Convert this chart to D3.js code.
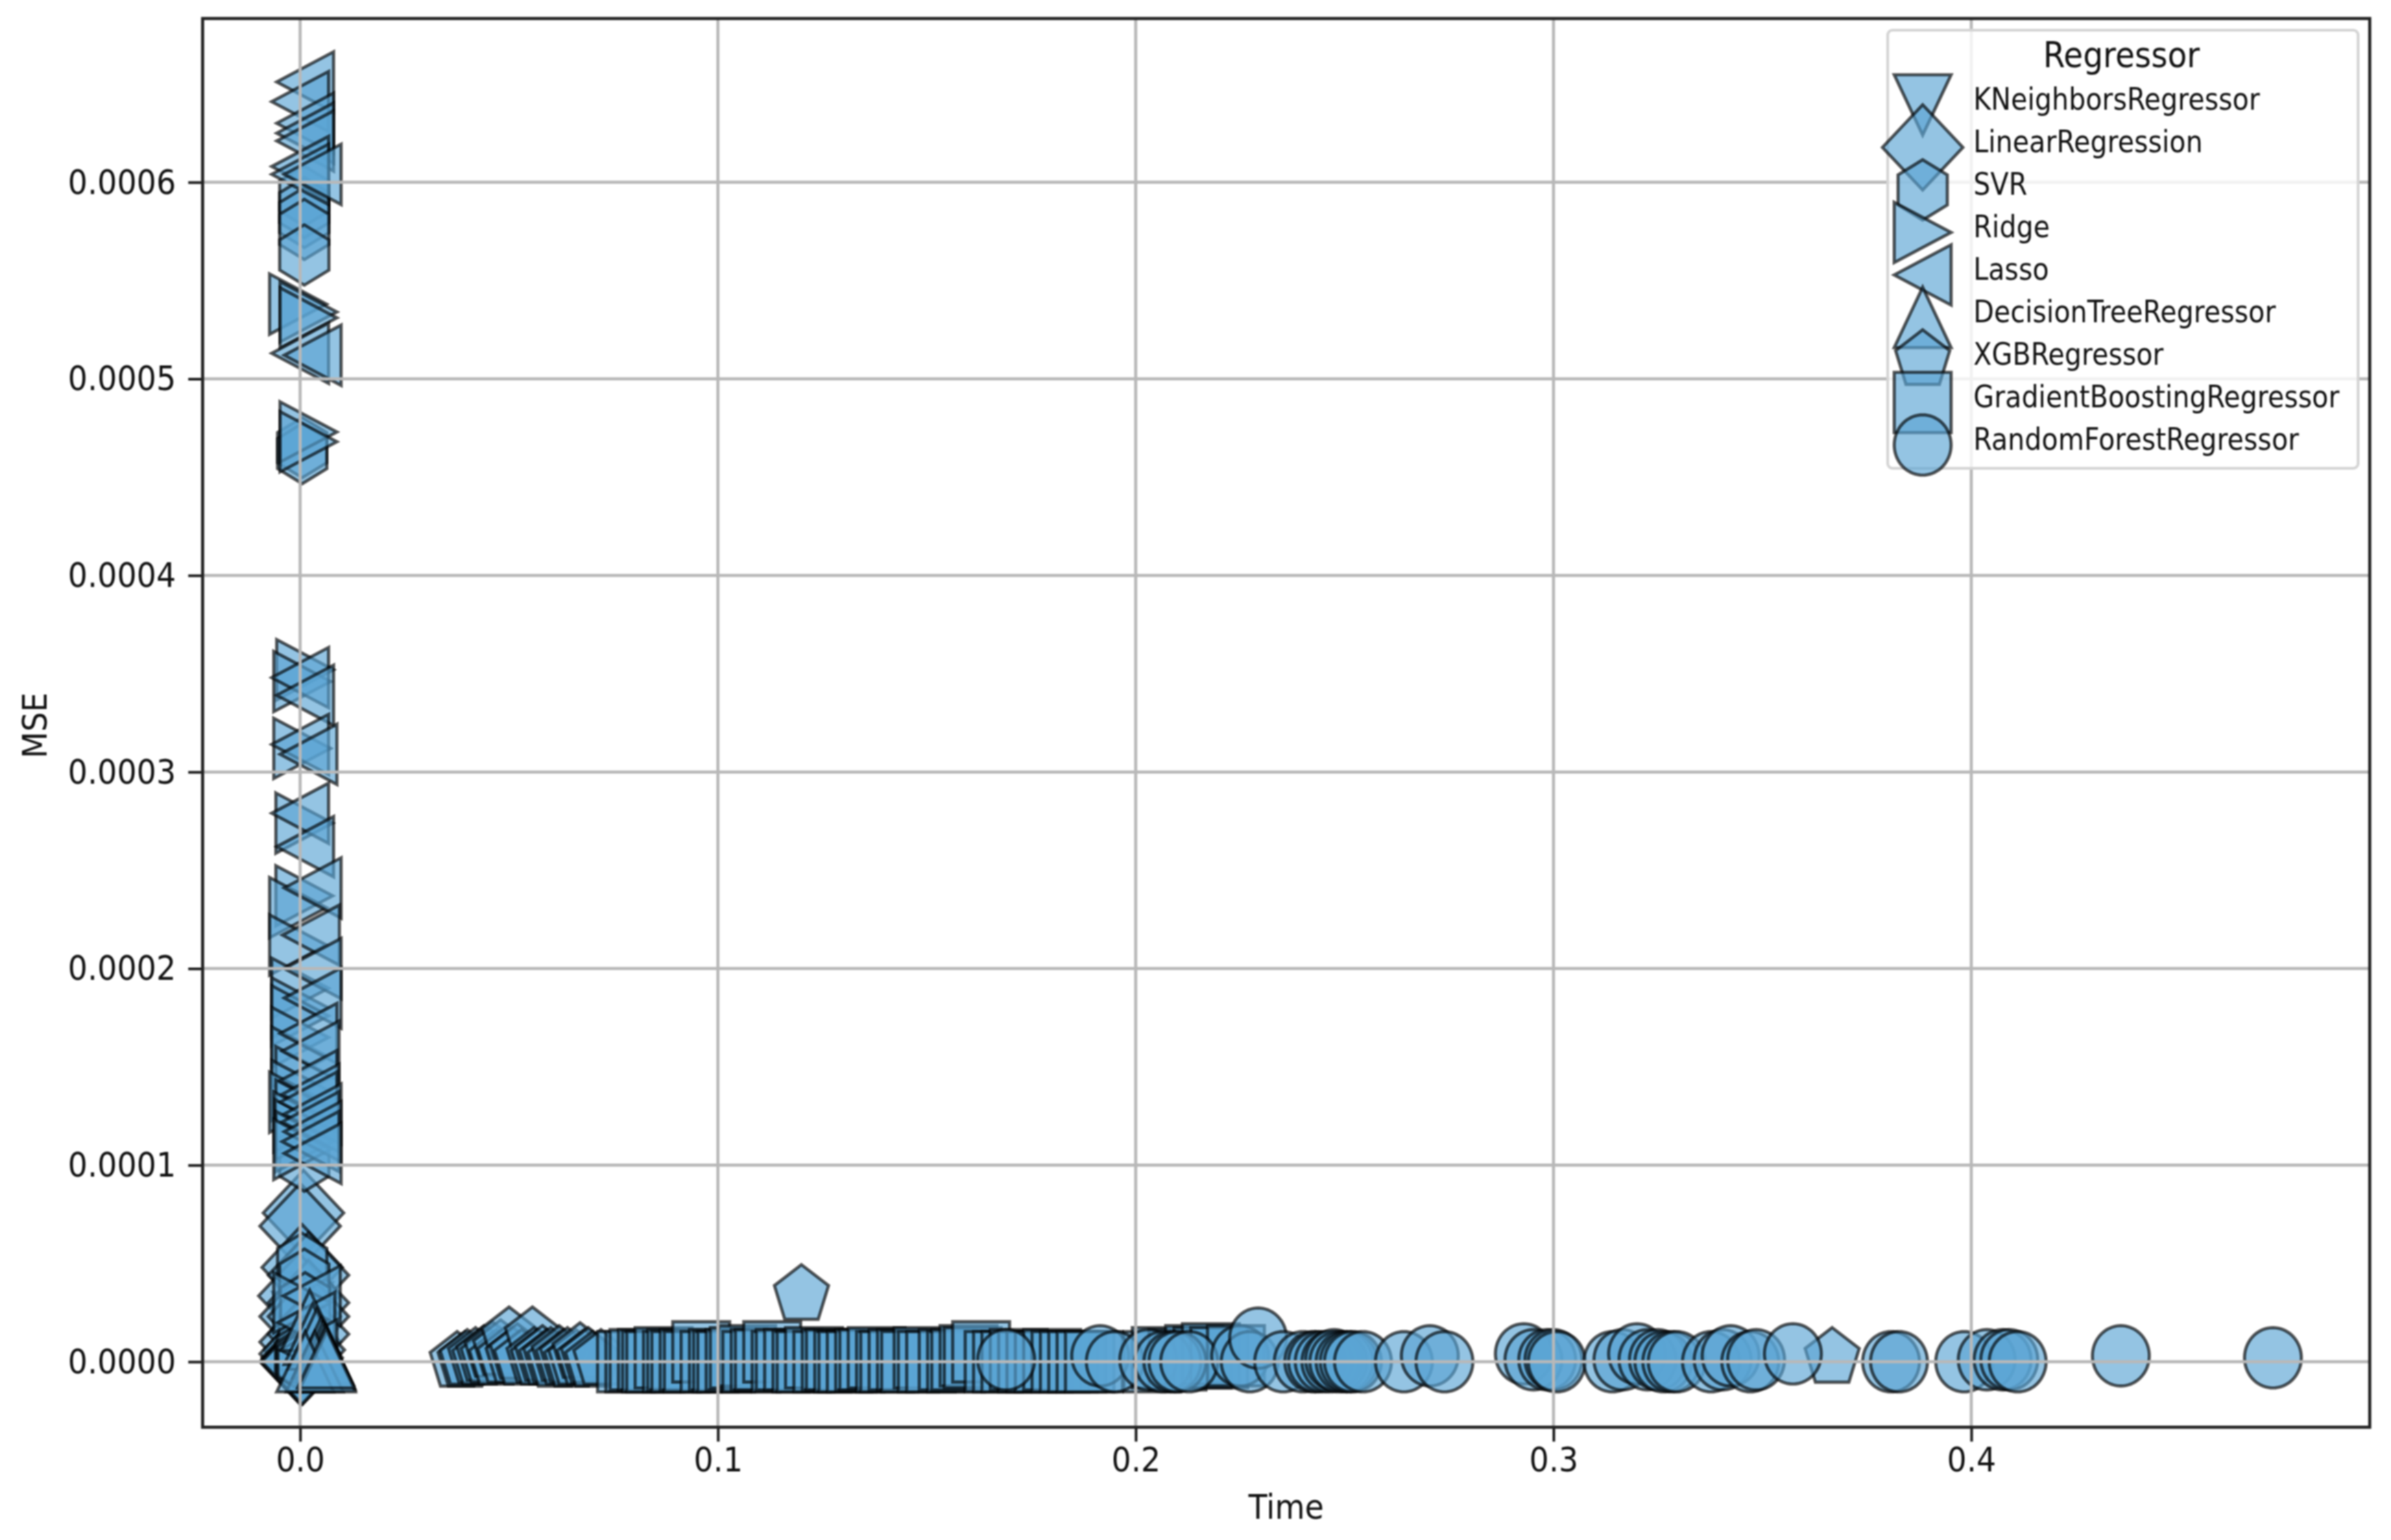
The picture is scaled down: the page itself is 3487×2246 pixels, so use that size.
<!DOCTYPE html>
<html><head><meta charset="utf-8">
<script src="https://cdn.jsdelivr.net/npm/d3@7/dist/d3.min.js"></script>
<style>
html,body{margin:0;padding:0;background:#fff;}
svg{display:block;filter:blur(1.3px);font-family:"DejaVu Sans",sans-serif;}
.st{transform-box:fill-box;transform-origin:center;transform:scaleY(1.12);}
</style></head><body>
<script>
const xTicks=[0,0.1,0.2,0.3,0.4];
const yTicks=[0,0.0001,0.0002,0.0003,0.0004,0.0005,0.0006];
const xTitle="Time", yTitle="MSE", legendTitle="Regressor";
const regressors=["KNeighborsRegressor","LinearRegression","SVR","Ridge","Lasso","DecisionTreeRegressor","XGBRegressor","GradientBoostingRegressor","RandomForestRegressor"];

const knnTime=[0.0005,0.001,0.0002,0.0015,0.0008,0.0003,0.001,0.0006,0.0012,0.0004,0.0002,0.0009,0.0006,0.0003];
const knnMse=[0.30,0.25,0.20,0.15,0.10,0.05,0.03,0.02,0.01,0.0,0.0,0.0,0.0,0.0];
const linTime=[0.0008,0,0.0005,0.002,-0.0003,0.002,0,0.002,0,0.002,0.001,0,0.0005,0.0,0.0002,0.0006,0.0004];
const linMse=[0.757,0.69,0.48,0.44,0.335,0.30,0.23,0.23,0.10,0.14,0.06,0.04,0.02,0.0,0.0,0.0,0.0];
const svrTime=[0.001,0.001,0.001,0.001,0.001,0.0005,0.0005,0.001,0.0005,0.001,0.0012,0.0008,0.0004,0.0,0.0003,0.0006];
const svrMse=[5.93,5.87,5.82,5.76,5.63,4.65,4.62,1.02,0.50,0.42,0.30,0.12,0.05,0.02,0.01,0.0];
const ridgeTime=[-0.0005,0.002,0.002,0.002,0.002,0.0012,0.0005,0.0005,0.001,0.001,-0.0005,-0.0005,0.0,0.0,0.0,0.0,0.0,0.001,0.0,-0.0005,0.001,0.0005,0.0008,0.001,0.0005,0.0005];
const ridgeMse=[5.38,5.34,5.31,4.73,4.68,3.52,3.46,3.12,2.74,2.37,2.31,2.12,1.90,1.80,1.76,1.65,1.55,1.45,1.38,1.32,1.28,1.22,1.18,1.12,1.08,0.30];
const lassoTime=[0.0012,0,0.0012,0.0012,0.0012,0,0,0.003,0,0.003,0,0.0012,0,0.002,0,0.0012,0.003,0.0026,0.003,0.003,0.002,0.0025,0.002,0.0025,0.002,0.003,0.0025,0.003,0.0025,0.003,0.0028,0.0015,0.002];
const lassoMse=[6.51,6.41,6.30,6.25,6.21,6.08,6.04,6.04,5.13,5.12,3.48,3.39,3.14,3.09,2.79,2.62,2.41,2.17,2.0,1.85,1.67,1.58,1.43,1.36,1.32,1.26,1.22,1.17,1.12,1.06,0.335,0.20,0.06];
const treeTime=[0.0023,0.003,0.004,0.005,0.0055,0.006,0.0064,0.0035,0.0012,0.0064,0.0062];
const treeMse=[0.21,0.14,0.115,0.07,0.05,0.035,0.01,0.0,0.0,0.0,0.02];
const xgbTime=[0.0376,0.0395,0.040,0.042,0.043,0.044,0.045,0.046,0.047,0.048,0.049,0.050,0.051,0.052,0.053,0.0556,0.056,0.057,0.058,0.059,0.060,0.061,0.062,0.063,0.064,0.065,0.066,0.067,0.068,0.069,0.070,0.072,0.120,0.3667];
const xgbMse=[0.0,0.0,0.01,0.02,0.01,0.03,0.02,0.05,0.01,0.06,0.02,0.125,0.02,0.04,0.01,0.125,0.02,0.01,0.03,0.01,0.02,0.0,0.03,0.01,0.02,0.0,0.01,0.045,0.01,0.02,0.0,0.01,0.34,0.02];
const gbTime=[0.078,0.080,0.081,0.083,0.084,0.085,0.087,0.089,0.090,0.091,0.093,0.094,0.096,0.098,0.100,0.101,0.102,0.104,0.105,0.107,0.108,0.110,0.111,0.113,0.115,0.116,0.118,0.120,0.121,0.123,0.125,0.127,0.128,0.130,0.131,0.133,0.135,0.136,0.138,0.140,0.141,0.143,0.145,0.146,0.149,0.150,0.152,0.155,0.157,0.158,0.160,0.161,0.163,0.166,0.168,0.170,0.172,0.174,0.176,0.178,0.180,0.182,0.184,0.186,0.188,0.190,0.204,0.206,0.210,0.214,0.216,0.218,0.220,0.224];
const gbMse=[0.0,0.0,0.01,0.01,0.0,0.0,0.02,0.0,0.01,0.0,0.01,0.0,0.05,0.0,0.01,0.0,0.0,0.01,0.02,0.03,0.0,0.01,0.01,0.05,0.0,0.01,0.01,0.0,0.0,0.02,0.0,0.01,0.01,0.0,0.0,0.0,0.01,0.01,0.02,0.0,0.0,0.01,0.01,0.0,0.02,0.0,0.0,0.01,0.0,0.01,0.03,0.02,0.05,0.0,0.0,0.0,0.01,0.0,0.0,0.0,0.01,0.0,0.0,0.0,0.0,0.0,0.0,0.02,0.01,0.03,0.02,0.04,0.02,0.03];
const rfTime=[0.169,0.1915,0.195,0.203,0.2066,0.2088,0.21,0.2128,0.225,0.2273,0.2293,0.2353,0.24,0.2425,0.2434,0.245,0.2466,0.2475,0.2485,0.25,0.251,0.252,0.2544,0.2642,0.2704,0.2739,0.2929,0.2952,0.2985,0.30,0.3008,0.3141,0.3165,0.32,0.3225,0.325,0.3263,0.3282,0.3295,0.3377,0.3405,0.3424,0.3471,0.3485,0.3573,0.3808,0.3827,0.3983,0.4037,0.4075,0.4091,0.4111,0.4358,0.4722];
const rfMse=[0.01,0.03,0.0,0.01,0.0,0.0,0.0,0.0,0.03,0.0,0.12,0.0,0.0,0.0,0.0,0.0,0.0,0.01,0.0,0.0,0.0,0.0,0.0,0.0,0.03,0.0,0.04,0.01,0.01,0.01,0.0,0.0,0.01,0.04,0.01,0.01,0.0,0.0,0.0,0.0,0.01,0.03,0.0,0.01,0.04,0.0,0.0,0.0,0.01,0.01,0.01,0.0,0.03,0.02];

const seriesT=[knnTime,linTime,svrTime,ridgeTime,lassoTime,treeTime,xgbTime,gbTime,rfTime];
const seriesM=[knnMse,linMse,svrMse,ridgeMse,lassoMse,treeMse,xgbMse,gbMse,rfMse];

const W=3487,H=2246,L=295.5,R=3456,T=27,B=2081.5;
const px0=437.7,pxPer=6093,py0=1986,pyPer=2867000;
const x=d3.scaleLinear().domain([(L-px0)/pxPer,(R-px0)/pxPer]).range([L,R]);
const y=d3.scaleLinear().domain([(py0-B)/pyPer,(py0-T)/pyPer]).range([B,T]);

const poly=(n,rot)=>d3.range(n).map(i=>{const a=rot+i*2*Math.PI/n;return [0.5*Math.sin(a),-0.5*Math.cos(a)];});
const shapes=[
 [[-.5,-.5],[.5,-.5],[0,.5]],
 [[0,-.7071],[.7071,0],[0,.7071],[-.7071,0]],
 poly(6,0),
 [[-.5,-.5],[.5,0],[-.5,.5]],
 [[.5,-.5],[-.5,0],[.5,.5]],
 [[0,-.5],[.5,.5],[-.5,.5]],
 poly(5,0),
 [[-.5,-.5],[.5,-.5],[.5,.5],[-.5,.5]],
 poly(72,0)
];
const S=83,SY=88;
const line=d3.line().x(d=>d[0]*S).y(d=>d[1]*SY).curve(d3.curveLinearClosed);
const fill="rgb(90,165,212)",edge="#000",fillA=0.65,edgeA=0.66,edgeW=4.6;

const svg=d3.select("body").append("svg").attr("width",W).attr("height",H).attr("viewBox",`0 0 ${W} ${H}`);
svg.append("rect").attr("width",W).attr("height",H).attr("fill","#fff");

// marks
const marks=svg.append("g");
regressors.forEach((name,i)=>{
  const pts=seriesT[i].map((t,j)=>({t,m:seriesM[i][j]*1e-4}));
  marks.append("g").selectAll("path").data(pts).join("path")
    .attr("d",line(shapes[i]))
    .attr("transform",d=>`translate(${x(d.t)},${y(d.m)})`)
    .attr("fill",fill).attr("fill-opacity",fillA)
    .attr("stroke",edge).attr("stroke-opacity",edgeA).attr("stroke-width",edgeW).attr("stroke-miterlimit",10);
});

// grid, drawn over the marks as in the reference
svg.append("g").selectAll("line").data(xTicks).join("line")
  .attr("x1",d=>x(d)).attr("x2",d=>x(d)).attr("y1",T).attr("y2",B).attr("stroke","#b8b8b8").attr("stroke-width",4.5);
svg.append("g").selectAll("line").data(yTicks).join("line")
  .attr("y1",d=>y(d)).attr("y2",d=>y(d)).attr("x1",L).attr("x2",R).attr("stroke","#b8b8b8").attr("stroke-width",4.5);

// axes
const ax=svg.append("g").attr("transform",`translate(0,${B})`)
  .call(d3.axisBottom(x).tickValues(xTicks).tickFormat(d3.format(".1f")).tickSize(21).tickPadding(10));
const ay=svg.append("g").attr("transform",`translate(${L},0)`)
  .call(d3.axisLeft(y).tickValues(yTicks).tickFormat(d3.format(".4f")).tickSize(21).tickPadding(18));
[ax,ay].forEach(g=>{
  g.select(".domain").remove();
  g.selectAll(".tick line").attr("stroke","#222").attr("stroke-width",4);
  g.selectAll(".tick text").attr("class","st").attr("font-size",45).attr("fill","#111").attr("font-family",'"DejaVu Sans"');
});
svg.append("rect").attr("x",L).attr("y",T).attr("width",R-L).attr("height",B-T)
  .attr("fill","none").attr("stroke","#222").attr("stroke-width",4.5);

svg.append("text").attr("class","st").attr("x",(L+R)/2).attr("y",2213).attr("text-anchor","middle")
  .attr("font-size",45).attr("fill","#111").text(xTitle);
svg.append("g").attr("transform","translate(66,1058) rotate(-90)").append("text").attr("class","st")
  .attr("text-anchor","middle").attr("font-size",45).attr("fill","#111").text(yTitle);

// legend
const lg=svg.append("g");
lg.append("rect").attr("x",2753).attr("y",44).attr("width",686).attr("height",639).attr("rx",7)
  .attr("fill","#fff").attr("fill-opacity",0.8).attr("stroke","#d4d4d4").attr("stroke-width",4);
lg.append("text").attr("class","st").attr("x",3094).attr("y",96).attr("text-anchor","middle")
  .attr("font-size",46).attr("fill","#111").text(legendTitle);
const rowY=d3.scalePoint().domain(regressors).range([145,641]);
regressors.forEach((name,i)=>{
  lg.append("path").attr("d",line(shapes[i])).attr("transform",`translate(2804,${rowY(name)+8})`)
    .attr("fill",fill).attr("fill-opacity",fillA).attr("stroke",edge).attr("stroke-opacity",edgeA)
    .attr("stroke-width",edgeW).attr("stroke-miterlimit",10);
  lg.append("text").attr("class","st").attr("x",2878).attr("y",rowY(name)+13).attr("font-size",39)
    .attr("fill","#111").text(name);
});
</script></body></html>
